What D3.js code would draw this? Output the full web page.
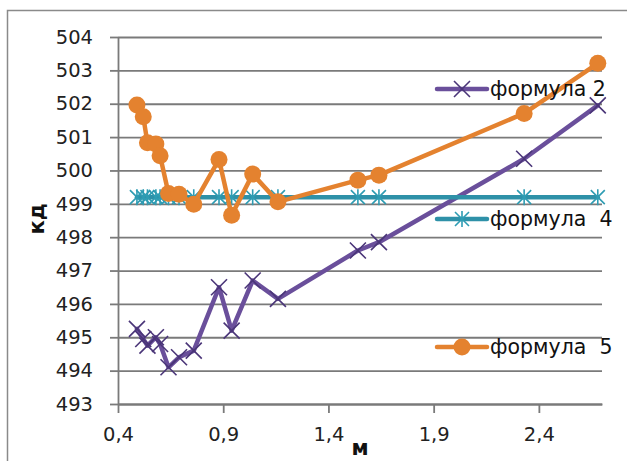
<!DOCTYPE html>
<html><head><meta charset="utf-8">
<script src="https://cdn.jsdelivr.net/npm/d3@7"></script>
<style>html,body{margin:0;padding:0;background:#fff;}svg{display:block;}</style>
</head><body>
<script>
const xValues = [0.49, 0.52, 0.54, 0.58, 0.60, 0.64, 0.69, 0.76, 0.88, 0.94, 1.04, 1.16, 1.54, 1.64, 2.33, 2.68];
const formula2 = [495.25, 494.95, 494.75, 495.0, 494.8, 494.1, 494.4, 494.6, 496.5, 495.2, 496.7, 496.15, 497.6, 497.85, 500.35, 501.95];
const formula4 = [499.2, 499.2, 499.2, 499.2, 499.2, 499.2, 499.2, 499.2, 499.2, 499.2, 499.2, 499.2, 499.2, 499.2, 499.2, 499.2];
const formula5 = [501.96, 501.61, 500.83, 500.79, 500.44, 499.31, 499.29, 498.99, 500.33, 498.66, 499.89, 499.06, 499.71, 499.86, 501.71, 503.21];
const seriesNames = ["формула 2", "формула  4", "формула  5"];
const xTicks = [0.4, 0.9, 1.4, 1.9, 2.4];
const xTickLabels = ["0,4", "0,9", "1,4", "1,9", "2,4"];
const yTicks = [493, 494, 495, 496, 497, 498, 499, 500, 501, 502, 503, 504];
const xTitle = "м";
const yTitle = "кд";

const W = 627, H = 461;
const svg = d3.select("body").append("svg").attr("width", W).attr("height", H);
const font = "DejaVu Sans, sans-serif";
const grid = "#7a7a7a";

svg.append("rect").attr("x", 7.5).attr("y", 10.5).attr("width", 700).attr("height", 500)
  .attr("fill", "none").attr("stroke", "#8a8a8a").attr("stroke-width", 1.5);

const x = d3.scaleLinear().domain([0.4, 2.7]).range([118, 602]);
const y = d3.scaleLinear().domain([493, 504]).range([404, 37]);

// gridlines
const gGrid = svg.append("g").attr("transform", "translate(118,0)")
  .call(d3.axisRight(y).tickValues(yTicks).tickSize(x(2.7) - x(0.4)).tickFormat(""));
gGrid.select(".domain").remove();
gGrid.selectAll("line").attr("stroke", grid).attr("stroke-width", 1.8);

// y axis
const gy = svg.append("g").attr("transform", "translate(118,0)")
  .call(d3.axisLeft(y).tickValues(yTicks).tickSize(8).tickSizeOuter(0).tickPadding(17).tickFormat(d3.format("d")));
gy.select(".domain").attr("stroke", grid).attr("stroke-width", 1.8);
gy.selectAll("line").attr("stroke", grid).attr("stroke-width", 1.8);
gy.selectAll("text").attr("font-family", font).attr("font-size", 19.5).attr("fill", "#222");

// x axis
const gx = svg.append("g").attr("transform", "translate(0,404)")
  .call(d3.axisBottom(x).tickValues(xTicks).tickSize(9).tickSizeOuter(0).tickPadding(14)
    .tickFormat((d, i) => xTickLabels[i]));
gx.select(".domain").attr("stroke", grid).attr("stroke-width", 1.8);
gx.selectAll("line").attr("stroke", grid).attr("stroke-width", 1.8);
gx.selectAll("text").attr("font-family", font).attr("font-size", 19.5).attr("fill", "#222");

// titles
svg.append("text").attr("transform", "translate(44,219) rotate(-90)").attr("text-anchor", "middle")
  .attr("font-family", font).attr("font-weight", "bold").attr("font-size", 21).attr("fill", "#111").text(yTitle);
svg.append("text").attr("x", 360).attr("y", 455).attr("text-anchor", "middle")
  .attr("font-family", font).attr("font-weight", "bold").attr("font-size", 21).attr("fill", "#111").text(xTitle);

const line = d3.line().x(d => x(d[0])).y(d => y(d[1]));
const colors = ["#6A4F9B", "#2E91A8", "#E4822F"];
const markerColors = ["#4A3578", "#2E9CB3", "#E4822F"];
const data = [formula2, formula4, formula5].map(s => s.map((v, i) => [xValues[i], v]));

function drawMarker(g, type, cx, cy, col) {
  if (type === 0) {
    const s = 8;
    g.append("path").attr("d", `M${cx - s},${cy - s}L${cx + s},${cy + s}M${cx - s},${cy + s}L${cx + s},${cy - s}`)
      .attr("stroke", col).attr("stroke-width", 1.6).attr("fill", "none");
  } else if (type === 1) {
    const s = 7;
    g.append("path").attr("d", `M${cx - s},${cy - s}L${cx + s},${cy + s}M${cx - s},${cy + s}L${cx + s},${cy - s}M${cx},${cy - s - 1}L${cx},${cy + s + 1}`)
      .attr("stroke", col).attr("stroke-width", 1.6).attr("fill", "none");
  } else {
    g.append("circle").attr("cx", cx).attr("cy", cy).attr("r", 8.5).attr("fill", col);
  }
}

data.forEach((s, k) => {
  const g = svg.append("g");
  g.append("path").datum(s).attr("d", line).attr("fill", "none").attr("stroke", colors[k])
    .attr("stroke-width", 4.5).attr("stroke-linejoin", "round").attr("stroke-linecap", "round");
  s.forEach(d => drawMarker(g, k, x(d[0]), y(d[1]), markerColors[k]));
});

// legend
const legY = [89, 219, 347];
seriesNames.forEach((name, k) => {
  const g = svg.append("g");
  g.append("line").attr("x1", 437).attr("x2", 487).attr("y1", legY[k]).attr("y2", legY[k])
    .attr("stroke", colors[k]).attr("stroke-width", 4.5).attr("stroke-linecap", "round");
  drawMarker(g, k, 462, legY[k], markerColors[k]);
  g.append("text").attr("x", 490).attr("y", legY[k] + 7).attr("font-family", font).attr("font-size", 20.5)
    .attr("fill", "#111").attr("xml:space", "preserve").style("white-space", "pre").text(name);
});
</script>
</body></html>
